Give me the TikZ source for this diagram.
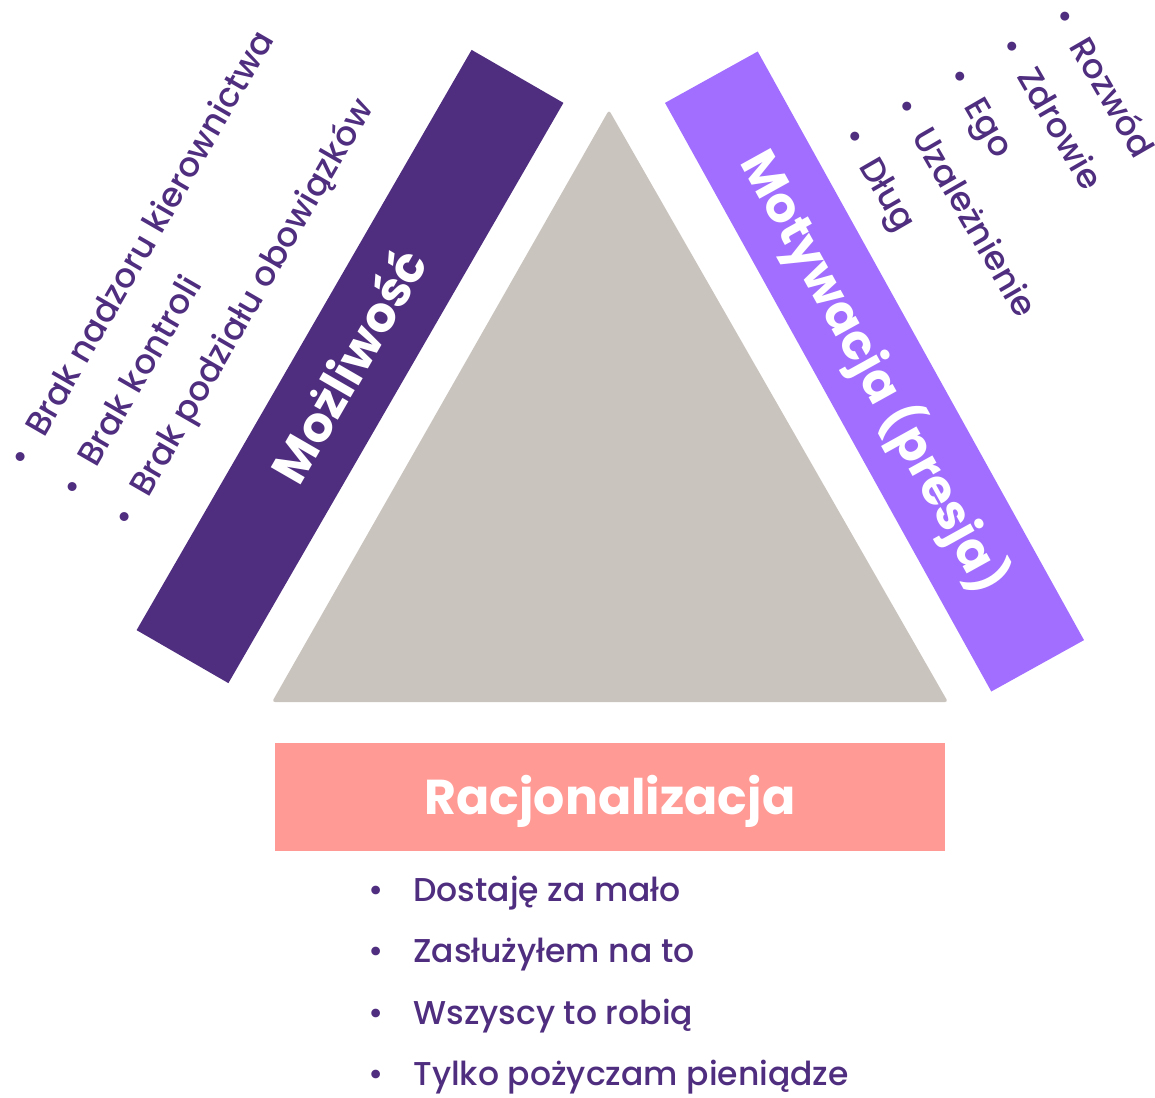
\documentclass[tikz,border=0pt]{standalone}
\usepackage{fontspec}
\setmainfont{Poppins Medium}[BoldFont={Poppins Bold}]
\usepackage{xcolor}
\usetikzlibrary{calc}

\definecolor{ciemnyFiolet}{HTML}{4F2D7F}
\definecolor{jasnyFiolet}{HTML}{A16EFF}
\definecolor{losos}{HTML}{FF9A95}
\definecolor{szary}{HTML}{CAC4BE}

\begin{document}
\begin{tikzpicture}[
    x=1pt, y=-1pt,                      % 1 pt = 1 px, trục y hướng xuống
    % Cấu hình các thanh màu
    sidebar/.style={rectangle, inner sep=0pt, minimum width=670pt, minimum height=106pt,
        text=white, text height=34pt, text depth=0pt,
        font=\bfseries\fontsize{49}{54}\selectfont},
    % Cấu hình chữ trong danh sách
    listitem/.style={inner sep=0pt, anchor=base west, text=ciemnyFiolet,
        font=\fontsize{34}{38}\selectfont},
    biglistitem/.style={listitem, font=\fontsize{33}{38}\selectfont}
]
\useasboundingbox (0,0) rectangle (1155,1097);

% Tam giác ở giữa
\coordinate (apex) at (609,110);
\coordinate (baseL) at (272,702);
\coordinate (baseR) at (948,702);
\fill[szary, rounded corners=3pt] (apex) -- (baseR) -- (baseL) -- cycle;

% Thanh bên trái (Możliwość)
\node[sidebar, fill=ciemnyFiolet, rotate=60] (opportunity) at (350,366.5) {Możliwość};

% Thanh bên phải (Motywacja)
\node[sidebar, fill=jasnyFiolet, rotate=-61, minimum width=673pt] (motivation) at (874.5,371.5) {Motywacja (presja)};

% Thanh dưới (Racjonalizacja)
\node[sidebar, fill=losos, minimum height=108pt] (rationalization) at (610,797) {Racjonalizacja};

% Danh sách bên trái
\node[listitem, rotate=60] (opp1) at (26.7,469.2) {\textbullet\hspace{19pt}Brak nadzoru kierownictwa};
\node[listitem, rotate=60] (opp2) at (78.7,499.2) {\textbullet\hspace{19pt}Brak kontroli};
\node[listitem, rotate=60] (opp3) at (130.7,529.2) {\textbullet\hspace{19pt}Brak podziału obowiązków};

% Danh sách bên phải
\node[listitem, rotate=-60] (mot1) at (1051.3,15.8) {\textbullet\hspace{19pt}Rozwód};
\node[listitem, rotate=-60] (mot2) at (998.8,45.8) {\textbullet\hspace{19pt}Zdrowie};
\node[listitem, rotate=-60] (mot3) at (946.3,75.8) {\textbullet\hspace{19pt}Ego};
\node[listitem, rotate=-60] (mot4) at (893.8,105.8) {\textbullet\hspace{19pt}Uzależnienie};
\node[listitem, rotate=-60] (mot5) at (841.3,135.8) {\textbullet\hspace{19pt}Dług};

% Danh sách phía dưới
\node[biglistitem] (rat1) at (368,901) {\textbullet\hspace{30pt}Dostaję za mało};
\node[biglistitem] (rat2) at (368,962.5) {\textbullet\hspace{30pt}Zasłużyłem na to};
\node[biglistitem] (rat3) at (368,1024) {\textbullet\hspace{30pt}Wszyscy to robią};
\node[biglistitem] (rat4) at (368,1085.5) {\textbullet\hspace{30pt}Tylko pożyczam pieniądze};

\end{tikzpicture}
\end{document}
